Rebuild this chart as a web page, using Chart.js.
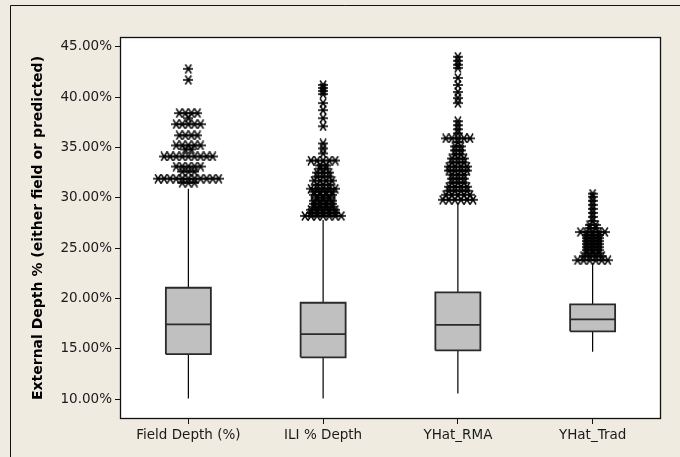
<!DOCTYPE html>
<html>
<head>
<meta charset="utf-8">
<script src="https://cdn.jsdelivr.net/npm/chart.js@4.4.1/dist/chart.umd.min.js"></script>
<style>
    html, body { margin: 0; padding: 0; background: #efebe0; }
    #wrap { width: 680px; height: 457px; }
</style>
</head>
<body>
<div id="wrap"><canvas id="boxChart" width="680" height="457"></canvas></div>
<script>
// Box statistics (percent)
const categories = ['Field Depth (%)', 'ILI % Depth', 'YHat_RMA', 'YHat_Trad'];
const whiskerLow = [10.08, 10.08, 10.58, 14.71];
const q1 = [14.48, 14.16, 14.85, 16.74];
const medians = [17.43, 16.47, 17.39, 17.93];
const q3 = [21.07, 19.58, 20.61, 19.42];
const whiskerHigh = [30.9, 27.8, 29.4, 23.5];
const yTicks = [10, 15, 20, 25, 30, 35, 40, 45];

// Outliers: value and how many symbols sit side by side at that value
const fieldOutValues = [42.8, 41.7, 38.4, 37.9, 37.3, 36.2, 35.2, 34.8, 34.1, 33.1, 32.6, 31.9, 31.5];
const fieldOutCounts = [1, 1, 4, 1, 5, 4, 5, 2, 9, 5, 3, 11, 3];

const iliOutValues = [41.2, 40.9, 40.6, 40.3, 39.4, 38.7, 37.9, 37.1, 35.4, 34.9, 34.4, 33.7, 33.2, 32.9,
    32.5, 32.1, 31.7, 31.3, 30.9, 30.6, 30.3, 30.0, 29.7, 29.4, 29.1, 28.8, 28.5, 28.2];
const iliOutCounts = [1, 1, 1, 1, 1, 1, 1, 1, 1, 1, 1, 5, 2, 2, 3, 3, 4, 3, 5, 4, 4, 3, 4, 4, 4, 5, 5, 7];

const rmaOutValues = [44.0, 43.6, 43.2, 42.9, 41.9, 41.2, 40.5, 39.9, 39.4, 37.6, 37.2, 36.8, 36.4, 35.9,
    35.5, 35.1, 34.7, 34.3, 33.9, 33.5, 33.1, 32.7, 32.3, 31.9, 31.5, 31.1, 30.7, 30.3, 29.8];
const rmaOutCounts = [1, 1, 1, 1, 1, 1, 1, 1, 1, 1, 1, 1, 1, 5, 1, 2, 2, 2, 3, 3, 4, 4, 3, 3, 3, 4, 4, 5, 6];

const tradOutValues = [30.4, 30.1, 29.7, 29.3, 28.9, 28.5, 28.1, 27.7, 27.3, 27.0, 26.6, 26.3, 26.0,
    25.7, 25.4, 25.1, 24.8, 24.5, 24.2, 23.8];
const tradOutCounts = [1, 1, 1, 1, 1, 1, 1, 1, 2, 2, 5, 3, 3, 3, 3, 3, 3, 3, 4, 6];

const outValues = [fieldOutValues, iliOutValues, rmaOutValues, tradOutValues];
const outCounts = [fieldOutCounts, iliOutCounts, rmaOutCounts, tradOutCounts];

// Layout constants (x units are category slots)
const BOX_HALF = 0.167;
const SPREAD = 0.045;

function makeAsterisk() {
    const c = document.createElement('canvas');
    c.width = 10;
    c.height = 10;
    const g = c.getContext('2d');
    g.strokeStyle = '#000';
    g.lineWidth = 1.4;
    g.beginPath();
    g.moveTo(0, 5); g.lineTo(10, 5);
    g.moveTo(2, 0.5); g.lineTo(8, 9.5);
    g.moveTo(8, 0.5); g.lineTo(2, 9.5);
    g.stroke();
    return c;
}

function spreadOutliers(idx, values, counts) {
    const pts = [];
    values.forEach((v, i) => {
        const n = counts[i];
        for (let k = 0; k < n; k++) {
            pts.push({ x: idx + (k - (n - 1) / 2) * SPREAD, y: v });
        }
    });
    return pts;
}

const asterisk = makeAsterisk();
const datasets = [];

categories.forEach((name, i) => {
    datasets.push({
        type: 'scatter',
        data: spreadOutliers(i, outValues[i], outCounts[i]),
        pointStyle: asterisk,
        pointRadius: 5,
        order: 0
    });
    datasets.push({
        type: 'line',
        data: [{ x: i - BOX_HALF, y: medians[i] }, { x: i + BOX_HALF, y: medians[i] }],
        borderColor: '#2a2a2a',
        borderWidth: 1.8,
        pointRadius: 0,
        order: 1
    });
    datasets.push({
        type: 'line',
        data: [
            { x: i - BOX_HALF, y: q1[i] }, { x: i - BOX_HALF, y: q3[i] },
            { x: i + BOX_HALF, y: q3[i] }, { x: i + BOX_HALF, y: q1[i] },
            { x: i - BOX_HALF, y: q1[i] }
        ],
        borderColor: '#2a2a2a',
        backgroundColor: '#c0c0c0',
        borderWidth: 1.8,
        fill: 'shape',
        pointRadius: 0,
        order: 2
    });
    datasets.push({
        type: 'line',
        data: [{ x: i, y: whiskerLow[i] }, { x: i, y: q1[i] }],
        borderColor: '#000',
        borderWidth: 1.2,
        pointRadius: 0,
        order: 3
    });
    datasets.push({
        type: 'line',
        data: [{ x: i, y: q3[i] }, { x: i, y: whiskerHigh[i] }],
        borderColor: '#000',
        borderWidth: 1.2,
        pointRadius: 0,
        order: 3
    });
});

// Background, outer frame and plot frame
const framePlugin = {
    id: 'frame',
    beforeDraw(chart) {
        const { ctx, chartArea: a } = chart;
        ctx.save();
        ctx.fillStyle = '#efebe0';
        ctx.fillRect(0, 0, chart.width, chart.height);
        ctx.strokeStyle = '#111';
        ctx.lineWidth = 1;
        ctx.beginPath();
        ctx.moveTo(10.5, chart.height);
        ctx.lineTo(10.5, 5.5);
        ctx.lineTo(chart.width, 5.5);
        ctx.stroke();
        ctx.fillStyle = '#fff';
        ctx.fillRect(a.left, a.top, a.right - a.left, a.bottom - a.top);
        ctx.restore();
    },
    afterDraw(chart) {
        const { ctx, chartArea: a } = chart;
        ctx.save();
        ctx.strokeStyle = '#111';
        ctx.lineWidth = 1.3;
        ctx.strokeRect(a.left - 0.5, a.top - 0.5, a.right - a.left + 1, a.bottom - a.top + 1);
        ctx.restore();
    }
};

const tickFont = { family: 'DejaVu Sans', size: 13.5 };

new Chart(document.getElementById('boxChart'), {
    type: 'scatter',
    data: { datasets: datasets },
    plugins: [framePlugin],
    options: {
        responsive: false,
        animation: false,
        layout: { padding: { top: 38, right: 20, left: 0, bottom: 0 } },
        plugins: {
            legend: { display: false },
            tooltip: { enabled: false }
        },
        scales: {
            x: {
                type: 'linear',
                min: -0.5,
                max: 3.5,
                afterBuildTicks: scale => { scale.ticks = categories.map((c, i) => ({ value: i })); },
                afterFit: scale => { scale.height = 39; },
                border: { display: false },
                grid: { drawOnChartArea: false, drawTicks: true, tickLength: 6, color: '#111' },
                ticks: {
                    font: tickFont,
                    color: '#1a1a1a',
                    padding: 3,
                    maxRotation: 0,
                    callback: v => categories[v]
                }
            },
            y: {
                min: 8.14,
                max: 45.86,
                afterBuildTicks: scale => { scale.ticks = yTicks.map(v => ({ value: v })); },
                afterFit: scale => { scale.width = 121; },
                border: { display: false },
                grid: { drawOnChartArea: false, drawTicks: true, tickLength: 6, color: '#111' },
                ticks: {
                    font: tickFont,
                    color: '#1a1a1a',
                    padding: 3,
                    callback: v => v.toFixed(2) + '%'
                },
                title: {
                    display: true,
                    text: 'External Depth % (either field or predicted)',
                    font: { family: 'DejaVu Sans', size: 14, weight: 'bold' },
                    color: '#000',
                    padding: { top: 30, bottom: 0 }
                }
            }
        }
    }
});
</script>
</body>
</html>
